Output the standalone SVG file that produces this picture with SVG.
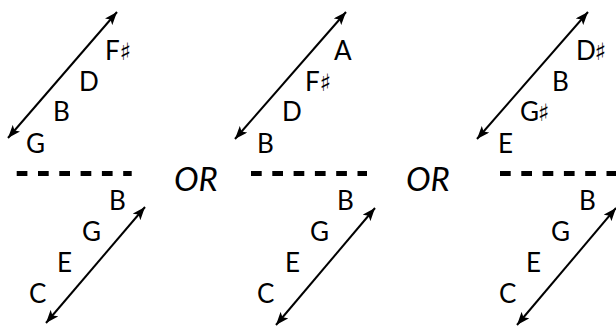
<svg xmlns="http://www.w3.org/2000/svg" width="616" height="329" viewBox="0 0 616 329">
<style>
.n{font-family:Lato,"Noto Sans","Liberation Sans",sans-serif;font-size:26px;fill:#000}
.s{font-family:"DejaVu Sans",sans-serif;font-size:24px}
.or{font-family:Lato,"Noto Sans","Liberation Sans",sans-serif;font-size:33px;font-style:italic;fill:#000}
.a{stroke:#000;stroke-width:2;fill:none;marker-start:url(#ah);marker-end:url(#ah)}
.d{stroke:#000;stroke-width:5;stroke-dasharray:10.7 10.6;fill:none}
</style>
<defs>
<marker id="ah" viewBox="0 0 13 10" refX="13" refY="5" markerWidth="13" markerHeight="10" markerUnits="userSpaceOnUse" orient="auto-start-reverse">
<path d="M0,0 L13,5 L0,10 L3,5 z" fill="#000"/>
</marker>
</defs>
<g id="connectors">
<line class="a" x1="8" y1="138" x2="117" y2="12"/>
<line class="a" x1="46" y1="323" x2="145" y2="207"/>
<line class="a" x1="235" y1="139" x2="346" y2="12"/>
<line class="a" x1="276" y1="325" x2="375" y2="208"/>
<line class="a" x1="477" y1="139" x2="588" y2="12"/>
<line class="a" x1="517" y1="325" x2="616" y2="208"/>
</g>
<g id="dividers">
<line class="d" x1="16.7" y1="173.5" x2="131.7" y2="173.5"/>
<line class="d" x1="251" y1="173.5" x2="367" y2="173.5"/>
<line class="d" x1="500" y1="173.5" x2="616" y2="173.5"/>
</g>
<g id="or1"><text class="or" x="174" y="191">OR</text></g>
<g id="or2"><text class="or" x="406" y="191">OR</text></g>
<g id="p1-top">
<text class="n" x="105" y="60">F<tspan class="s" dx="0">♯</tspan></text>
<text class="n" x="79" y="91">D</text>
<text class="n" x="53" y="121">B</text>
<text class="n" x="26" y="153">G</text>
</g>
<g id="p1-bottom">
<text class="n" x="109" y="210">B</text>
<text class="n" x="82" y="241">G</text>
<text class="n" x="57" y="272">E</text>
<text class="n" x="29" y="303">C</text>
</g>
<g id="p2-top">
<text class="n" x="334" y="60">A</text>
<text class="n" x="305" y="91">F<tspan class="s" dx="0">♯</tspan></text>
<text class="n" x="282" y="121">D</text>
<text class="n" x="257" y="153">B</text>
</g>
<g id="p2-bottom">
<text class="n" x="337" y="210">B</text>
<text class="n" x="310" y="241">G</text>
<text class="n" x="285" y="272">E</text>
<text class="n" x="257" y="303">C</text>
</g>
<g id="p3-top">
<text class="n" x="576" y="60">D<tspan class="s" dx="-1">♯</tspan></text>
<text class="n" x="552" y="91">B</text>
<text class="n" x="520" y="121">G<tspan class="s" dx="-1">♯</tspan></text>
<text class="n" x="498" y="153">E</text>
</g>
<g id="p3-bottom">
<text class="n" x="579" y="210">B</text>
<text class="n" x="551" y="241">G</text>
<text class="n" x="526" y="272">E</text>
<text class="n" x="499" y="303">C</text>
</g>
</svg>
